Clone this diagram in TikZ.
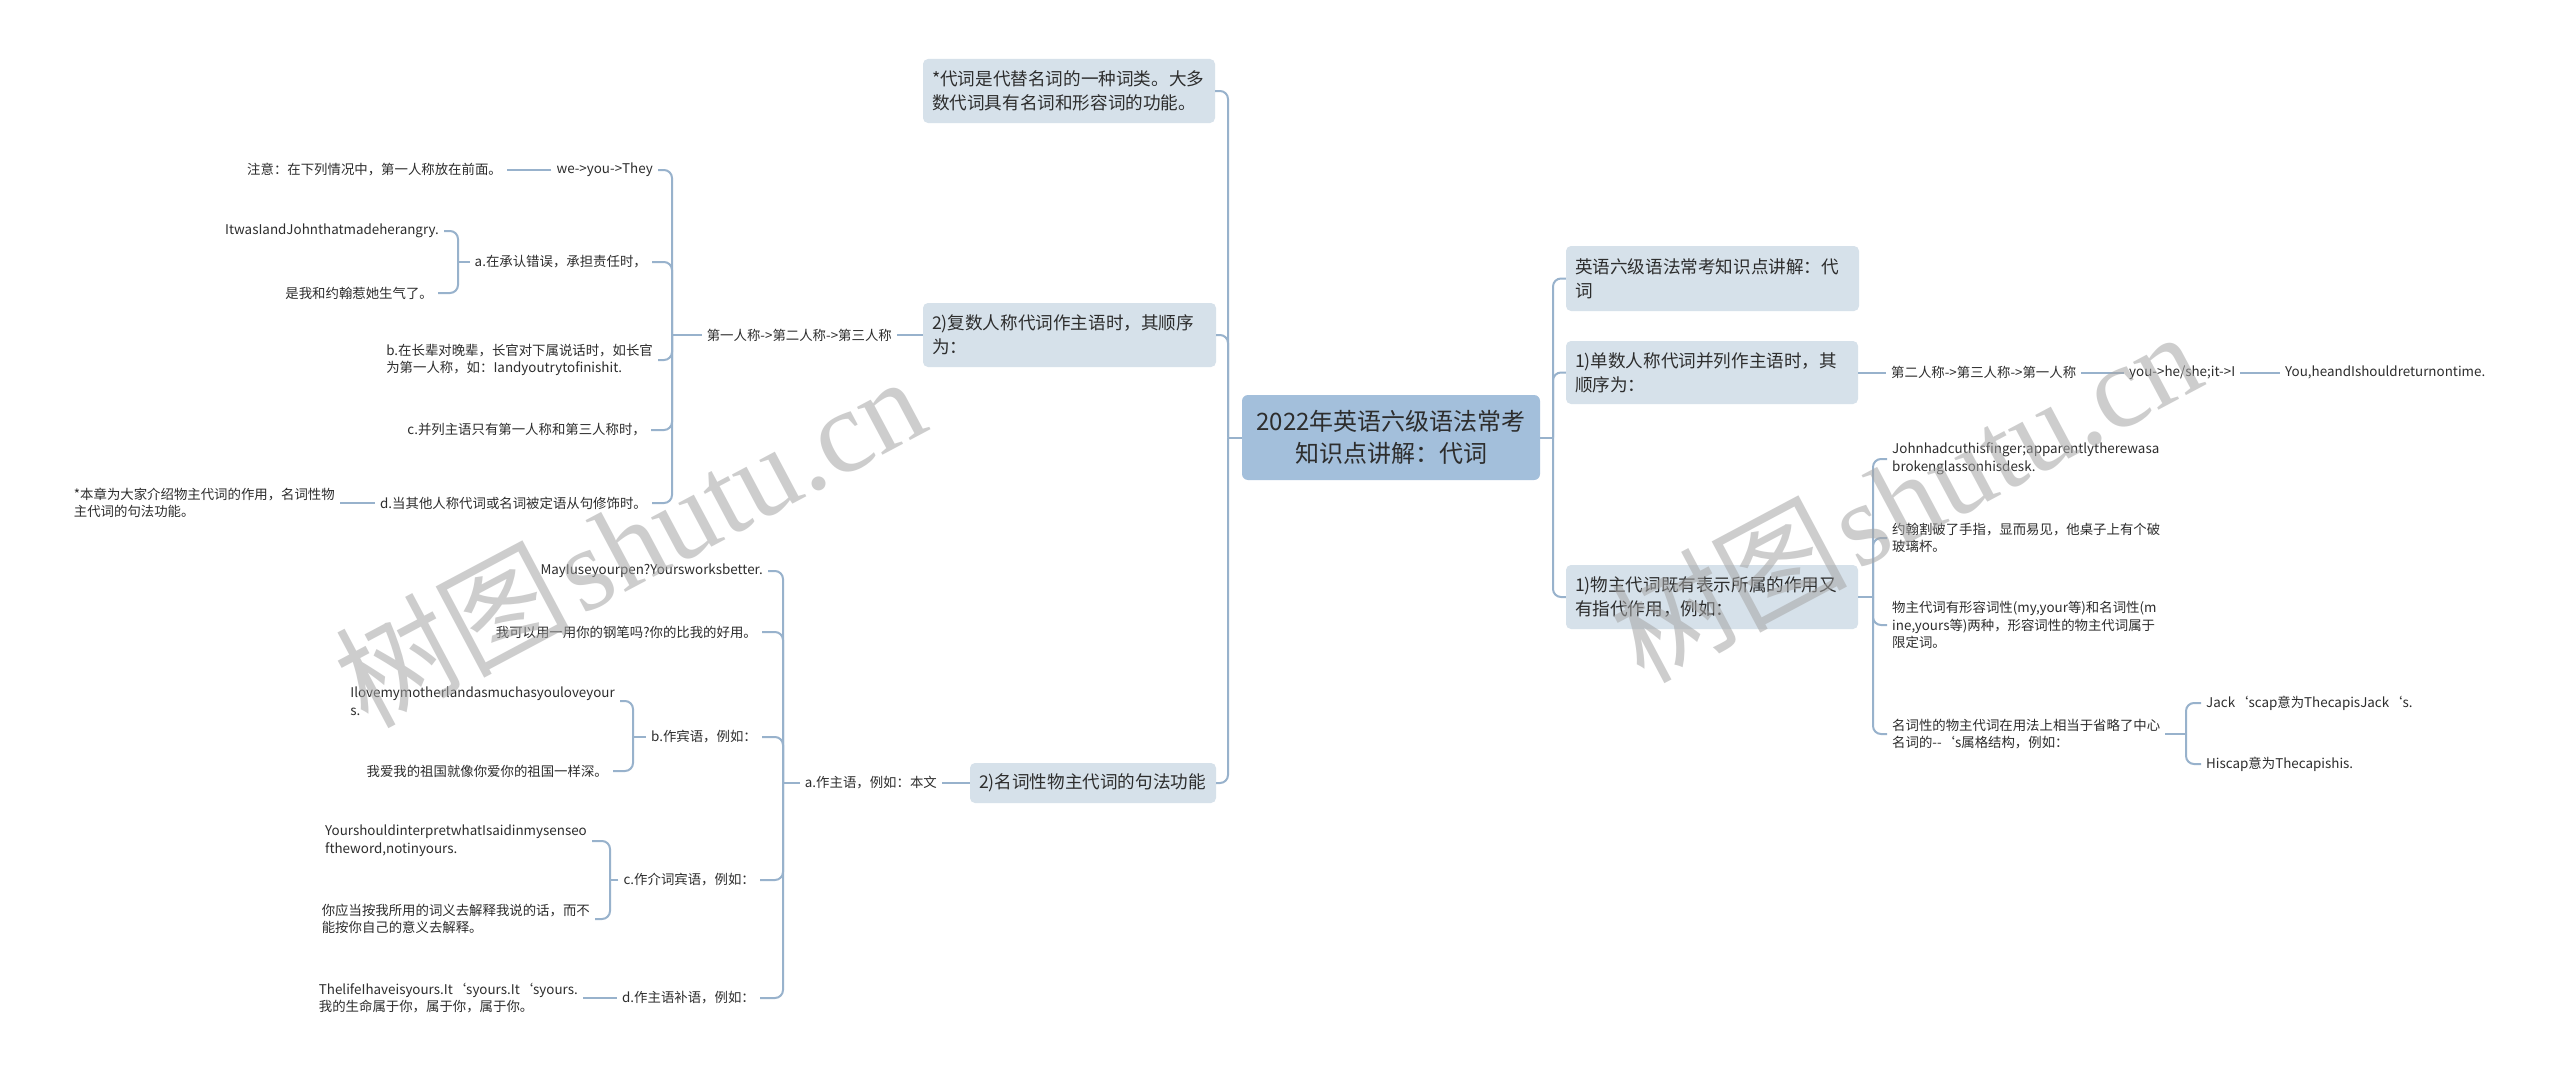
\documentclass[tikz,border=0pt]{standalone}
\usepackage{fontspec}
\setmainfont{Noto Sans CJK SC}
\newfontfamily\wmcjk{Noto Sans CJK SC}
\newfontfamily\wmlat{Liberation Serif}
\usetikzlibrary{calc}
\definecolor{linec}{RGB}{152,178,204}
\definecolor{boxc}{RGB}{214,225,234}
\definecolor{rootc}{RGB}{163,191,219}
\definecolor{txtc}{RGB}{45,45,45}
\definecolor{wmc}{RGB}{165,165,165}
\newcommand\fsm{\fontsize{13.4}{17.6}\selectfont}
\newcommand\fbx{\fontsize{17.6}{24}\selectfont}
\newcommand\frt{\fontsize{24}{32}\selectfont}
\newcommand\brL[3]{%
  \draw[conn] (#1.west) -- (#1.west -| #2);
  \foreach \ch in {#3} {\draw[conn,rounded corners=8pt] (#1.west -| #2) |- (\ch.east);}
}
\newcommand\brR[3]{%
  \draw[conn] (#1.east) -- (#1.east -| #2);
  \foreach \ch in {#3} {\draw[conn,rounded corners=8pt] (#1.east -| #2) |- (\ch.west);}
}
\tikzset{
  conn/.style={draw=linec, line width=2pt},
  rootbox/.style={fill=rootc, rounded corners=6pt, minimum width=298pt, minimum height=85pt,
    align=center, font=\frt, text=txtc, inner sep=0pt},
  bx/.style={fill=boxc, rounded corners=5pt, font=\fbx, text=txtc, align=left,
    inner xsep=9pt, inner ysep=0pt},
  txt/.style={font=\fsm, text=txtc, inner xsep=5pt, inner ysep=2pt, align=left},
  tl/.style={txt, anchor=east},
  tr/.style={txt, anchor=west},
  wm/.style={text=wmc, opacity=0.55, inner sep=0pt}
}
\begin{document}
\begin{tikzpicture}[x=1pt,y=-1pt]
\useasboundingbox (0,0) rectangle (2560,1081);
\fill[white] (0,0) rectangle (2560,1081);

% bracket x positions
\coordinate (bL) at (1228,0);
\coordinate (bR) at (1553,0);
\coordinate (b1) at (672,0);
\coordinate (b2) at (458,0);
\coordinate (b3) at (783,0);
\coordinate (b4) at (633,0);
\coordinate (b5) at (610,0);
\coordinate (b6) at (1873,0);
\coordinate (b7) at (2186,0);

% root
\node[rootbox] (root) at (1391,437.5) {2022年英语六级语法常考\\知识点讲解：代词};

% left main boxes
\node[bx, text width=274pt, minimum height=64pt] (n1) at (1069,91) {*代词是代替名词的一种词类。大多\\数代词具有名词和形容词的功能。};
\node[bx, text width=275pt, minimum height=64pt] (n2) at (1069.5,335) {2)复数人称代词作主语时，其顺序\\为：};
\node[bx, text width=228pt, minimum height=40pt] (n3) at (1093,783) {2)名词性物主代词的句法功能};

% right main boxes
\node[bx, text width=275pt, minimum height=65pt] (r1) at (1712.5,278.5) {英语六级语法常考知识点讲解：代\\词};
\node[bx, text width=274pt, minimum height=63pt] (r2) at (1712,372.5) {1)单数人称代词并列作主语时，其\\顺序为：};
\node[bx, text width=274pt, minimum height=64pt] (r3) at (1712,597) {1)物主代词既有表示所属的作用又\\有指代作用，例如：};

% right details
\node[tr] (r2a) at (1886,372.5) {第二人称->第三人称->第一人称};
\node[tr] (r2b) at (2124,372.5) {you->he/she;it->I};
\node[tr] (r2c) at (2280,372.5) {You,heandIshouldreturnontime.};
\node[tr] (c1) at (1887,459) {Johnhadcuthisfinger;apparentlytherewasa\\brokenglassonhisdesk.};
\node[tr] (c2) at (1887,538) {约翰割破了手指，显而易见，他桌子上有个破\\玻璃杯。};
\node[tr] (c3) at (1887,625) {物主代词有形容词性(my,your等)和名词性(m\\ine,yours等)两种，形容词性的物主代词属于\\限定词。};
\node[tr] (c4) at (1887,734) {名词性的物主代词在用法上相当于省略了中心\\名词的-{}-‘s属格结构，例如：};
\node[tr] (j1) at (2201,703) {Jack‘scap意为ThecapisJack‘s.};
\node[tr] (j2) at (2201,764) {Hiscap意为Thecapishis.};

% upper-left details
\node[tl] (l1) at (897,335) {第一人称->第二人称->第三人称};
\node[tl] (we) at (658,170) {we->you->They};
\node[tl] (zy) at (507,170) {注意：在下列情况中，第一人称放在前面。};
\node[tl] (la) at (652,262) {a.在承认错误，承担责任时，};
\node[tl] (it) at (444,231) {ItwasIandJohnthatmadeherangry.};
\node[tl] (sw) at (438,293) {是我和约翰惹她生气了。};
\node[tl] (lb) at (658,360) {b.在长辈对晚辈，长官对下属说话时，如长官\\为第一人称，如：Iandyoutrytofinishit.};
\node[tl] (lc) at (651,430) {c.并列主语只有第一人称和第三人称时，};
\node[tl] (ld) at (652,503) {d.当其他人称代词或名词被定语从句修饰时。};
\node[tl] (bz) at (340,503) {*本章为大家介绍物主代词的作用，名词性物\\主代词的句法功能。};

% lower-left details
\node[tl] (ma) at (942,783) {a.作主语，例如：本文};
\node[tl] (my) at (768,571) {MayIuseyourpen?Yoursworksbetter.};
\node[tl] (wk) at (762,632) {我可以用一用你的钢笔吗?你的比我的好用。};
\node[tl] (mb) at (762,737) {b.作宾语，例如：};
\node[tl] (il) at (620,701) {Ilovemymotherlandasmuchasyouloveyour\\s.};
\node[tl] (wa) at (613,771) {我爱我的祖国就像你爱你的祖国一样深。};
\node[tl] (mc) at (760,880) {c.作介词宾语，例如：};
\node[tl] (ys) at (592,841) {YourshouldinterpretwhatIsaidinmysenseo\\ftheword,notinyours.};
\node[tl] (ny) at (595,919) {你应当按我所用的词义去解释我说的话，而不\\能按你自己的意义去解释。};
\node[tl] (md) at (760,998) {d.作主语补语，例如：};
\node[tl] (tl1) at (583,998) {ThelifeIhaveisyours.It‘syours.It‘syours.\\我的生命属于你，属于你，属于你。};

% connectors
\brL{root}{bL}{n1,n2,n3}
\brR{root}{bR}{r1,r2,r3}
\draw[conn] (n2.west) -- (l1.east);
\brL{l1}{b1}{we,la,lb,lc,ld}
\draw[conn] (we.west) -- (zy.east);
\brL{la}{b2}{it,sw}
\draw[conn] (ld.west) -- (bz.east);
\draw[conn] (n3.west) -- (ma.east);
\brL{ma}{b3}{my,wk,mb,mc,md}
\brL{mb}{b4}{il,wa}
\brL{mc}{b5}{ys,ny}
\draw[conn] (md.west) -- (tl1.east);
\draw[conn] (r2.east) -- (r2a.west);
\draw[conn] (r2a.east) -- (r2b.west);
\draw[conn] (r2b.east) -- (r2c.west);
\brR{r3}{b6}{c1,c2,c3,c4}
\brR{c4}{b7}{j1,j2}

% watermarks
\node[wm, rotate=28] (wm1) at (629,540) {{\fontsize{118}{122}\selectfont\wmcjk 树图}\hspace{8pt}{\fontsize{118}{122}\selectfont\wmlat shutu.cn}};
\node[wm, rotate=28] (wm2) at (1905,495) {{\fontsize{118}{122}\selectfont\wmcjk 树图}\hspace{8pt}{\fontsize{118}{122}\selectfont\wmlat shutu.cn}};
\end{tikzpicture}
\end{document}
